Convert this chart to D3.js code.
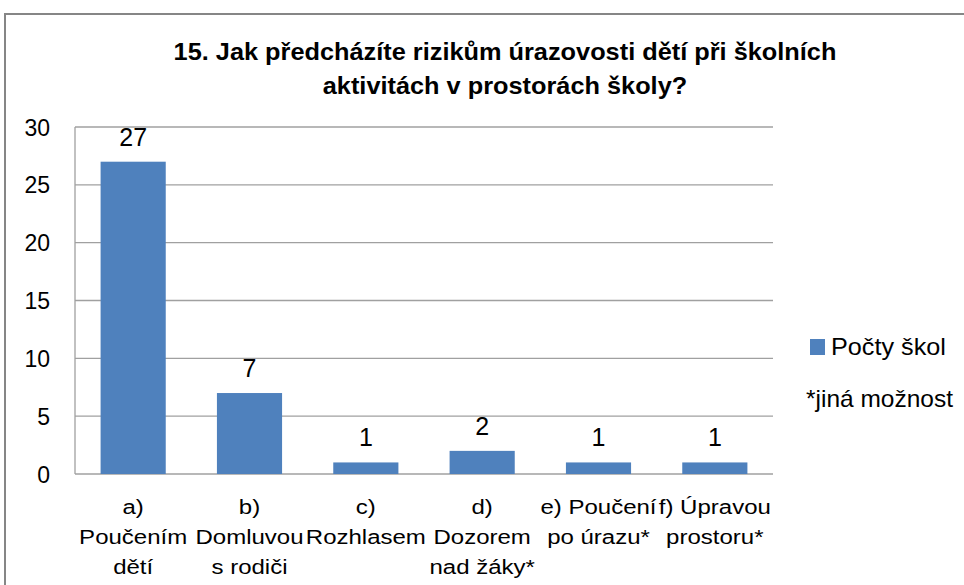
<!DOCTYPE html>
<html><head><meta charset="utf-8">
<script src="https://cdn.jsdelivr.net/npm/d3@7"></script>
<style>body{margin:0;background:#fff}svg{display:block}
svg text{font-family:"Liberation Sans",Arial,sans-serif;fill:#000}
</style>
</head><body>
<svg id="c" width="964" height="585"></svg>
<script>
const categories = [
  ["a)", "Poučením", "dětí"],
  ["b)", "Domluvou", "s rodiči"],
  ["c)", "Rozhlasem"],
  ["d)", "Dozorem", "nad žáky*"],
  ["e) Poučení", "po úrazu*"],
  ["f) Úpravou", "prostoru*"]
];
const values = [27, 7, 1, 2, 1, 1];
const yTicks = [0, 5, 10, 15, 20, 25, 30];
const titleLines = ["15. Jak předcházíte rizikům úrazovosti dětí při školních", "aktivitách v prostorách školy?"];
const seriesName = "Počty škol";
const note = "*jiná možnost";

const svg = d3.select("#c");
const M = {left: 75, right: 773, top: 127, bottom: 474};

function stretch(sel, f) {
  sel.each(function() {
    const L = this.getComputedTextLength();
    this.setAttribute("textLength", L * f);
    this.setAttribute("lengthAdjust", "spacingAndGlyphs");
  });
}

svg.append("rect").attr("x", 5).attr("y", 14).attr("width", 970).attr("height", 600)
  .attr("fill", "#fff").attr("stroke", "#868686").attr("stroke-width", 2);

const x = d3.scaleBand().domain(d3.range(categories.length)).range([M.left, M.right]).paddingInner(0.44).paddingOuter(0.22);
const y = d3.scaleLinear().domain([0, 30]).range([M.bottom, M.top]);

svg.append("g").selectAll("line").data(yTicks).join("line")
  .attr("x1", M.left).attr("x2", M.right)
  .attr("y1", d => y(d)).attr("y2", d => y(d))
  .attr("stroke", "#a0a0a0").attr("stroke-width", 1.3);

svg.append("line").attr("x1", M.left).attr("x2", M.left).attr("y1", M.top).attr("y2", M.bottom)
  .attr("stroke", "#a0a0a0").attr("stroke-width", 1.3);

const yAxis = d3.axisLeft(y).tickValues(yTicks).tickSize(0).tickPadding(25);
const ga = svg.append("g").attr("transform", `translate(${M.left},0)`).call(yAxis);
ga.select(".domain").remove();
ga.attr("font-family", null).attr("font-size", null);
ga.selectAll("text").attr("font-size", 23).attr("dy", "0.35em");

svg.append("g").selectAll("rect").data(values).join("rect")
  .attr("x", (d, i) => x(i)).attr("width", x.bandwidth())
  .attr("y", d => y(d)).attr("height", d => y(0) - y(d))
  .attr("fill", "#4f81bd");

svg.append("g").selectAll("text").data(values).join("text")
  .attr("x", (d, i) => x(i) + x.bandwidth() / 2)
  .attr("y", d => y(d) - 16)
  .attr("text-anchor", "middle")
  .attr("font-size", 25)
  .text(d => d);

const cl = svg.append("g").selectAll("text").data(categories).join("text")
  .attr("text-anchor", "middle")
  .attr("font-size", 20);
cl.each(function(lines, i) {
  d3.select(this).selectAll("tspan").data(lines).join("tspan")
    .attr("x", x(i) + x.bandwidth() / 2)
    .attr("y", (d, j) => 514 + j * 30)
    .text(d => d);
});
stretch(cl.selectAll("tspan"), 1.2);

const tt = svg.append("g").selectAll("text").data(titleLines).join("text")
  .attr("x", 505).attr("y", (d, i) => 60 + i * 34)
  .attr("text-anchor", "middle")
  .attr("font-weight", "bold").attr("font-size", 24)
  .text(d => d);
stretch(tt, 1.055);

svg.append("rect").attr("x", 810).attr("y", 339).attr("width", 15).attr("height", 16).attr("fill", "#4f81bd");
const lt = svg.append("text").attr("x", 831).attr("y", 355).attr("font-size", 24).text(seriesName);
stretch(lt, 1.05);
const nt = svg.append("text").attr("x", 806).attr("y", 407).attr("font-size", 24).text(note);
stretch(nt, 1.02);
</script>
</body></html>
